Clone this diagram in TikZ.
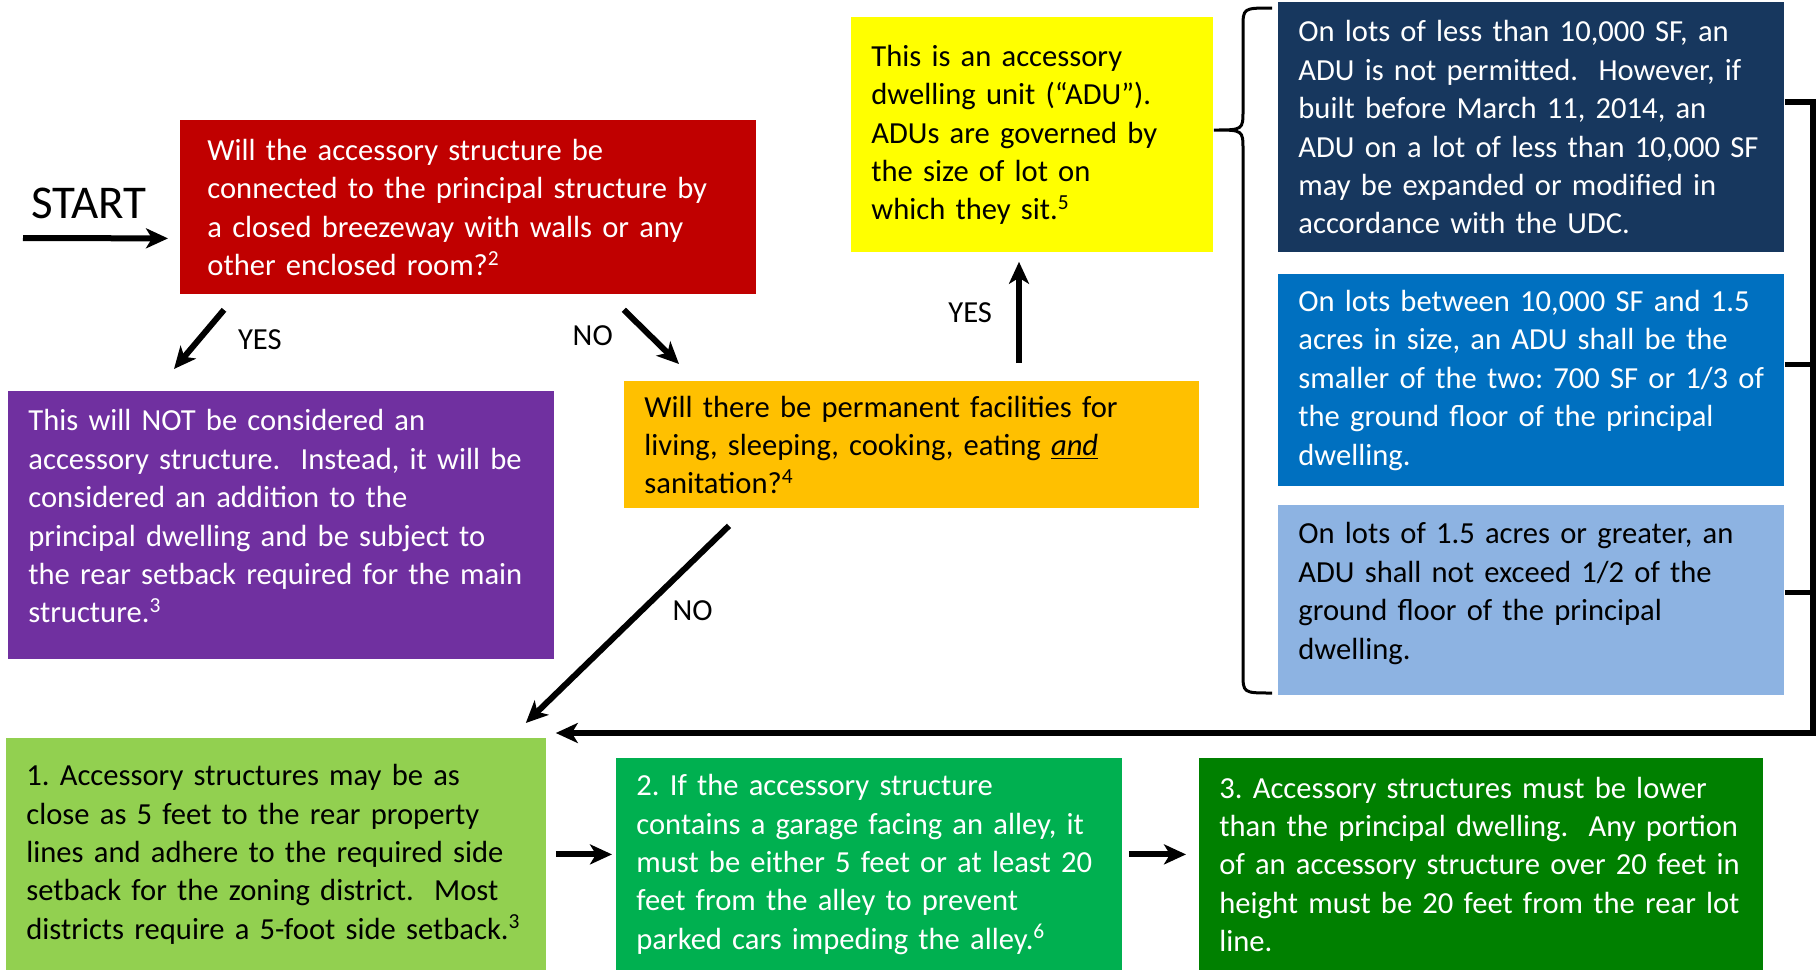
\documentclass[tikz,border=0pt]{standalone}
\usepackage{fontspec}
\setmainfont{Carlito}
\usepackage{xcolor}
\usetikzlibrary{positioning, arrows.meta, calc}

\definecolor{cRed}{HTML}{C00000}
\definecolor{cPurple}{HTML}{7030A0}
\definecolor{cOrange}{HTML}{FFC000}
\definecolor{cYellow}{HTML}{FFFF00}
\definecolor{cNavy}{HTML}{17375E}
\definecolor{cBlue}{HTML}{0070C0}
\definecolor{cSky}{HTML}{8DB3E2}
\definecolor{cLime}{HTML}{92D050}
\definecolor{cGreen}{HTML}{00B050}
\definecolor{cForest}{HTML}{008000}

\newcommand{\boxfont}{\fontsize{15.3pt}{19.2pt}\selectfont}
\frenchspacing

\begin{document}
\begin{tikzpicture}[
    x=1pt, y=-1pt,
    box/.style={rectangle, anchor=north west, inner xsep=10pt, inner ysep=0pt, align=left, font=\boxfont},
    redbox/.style={box, fill=cRed, text=white},
    purplebox/.style={box, fill=cPurple, text=white},
    orangebox/.style={box, fill=cOrange},
    yellowbox/.style={box, fill=cYellow},
    navybox/.style={box, fill=cNavy, text=white},
    bluebox/.style={box, fill=cBlue, text=white},
    skybox/.style={box, fill=cSky},
    limebox/.style={box, fill=cLime},
    greenbox/.style={box, fill=cGreen, text=white},
    forestbox/.style={box, fill=cForest, text=white},
    lbl/.style={font=\boxfont, inner sep=0pt},
    arrow/.style={-{Stealth[length=11pt, width=10pt, inset=3pt]}, line width=3pt},
    rail/.style={line width=2.5pt}
]
    \useasboundingbox (0,0) rectangle (910,485);

    \node[lbl, font=\fontsize{23.5pt}{27pt}\selectfont] (start) at (44.5,101.5) {START};
    \coordinate (startpt) at (11.5,119);

    \node[redbox, inner xsep=13.5pt, text width=261pt, minimum height=87pt] (connected) at (90,60)
        {Will the accessory structure be\\connected to the principal structure by\\a closed breezeway with walls or any\\other enclosed room?\textsuperscript{2}};
    \node[purplebox, text width=253pt, minimum height=134pt] (notaccessory) at (4,195.5)
        {This will NOT be considered an\\accessory structure.\ \ Instead, it will be\\considered an addition to the\\principal dwelling and be subject to\\the rear setback required for the main\\structure.\textsuperscript{3}\\[-10pt]\mbox{}};
    \node[orangebox, text width=267.5pt, minimum height=63.5pt] (facilities) at (312,190.5)
        {Will there be permanent facilities for\\living, sleeping, cooking, eating \underline{\textit{and}}\\sanitation?\textsuperscript{4}};
    \node[yellowbox, text width=161pt, minimum height=117.5pt] (adu) at (425.5,8.5)
        {This is an accessory\\dwelling unit (“ADU”).\\ADUs are governed by\\the size of lot on\\which they sit.\textsuperscript{5}};

    \node[navybox, text width=233pt, minimum height=125pt] (small) at (639,1)
        {On lots of less than 10,000 SF, an\\ADU is not permitted.\ \ However, if\\built before March 11, 2014, an\\ADU on a lot of less than 10,000 SF\\may be expanded or modified in\\accordance with the UDC.};
    \node[bluebox, text width=233pt, minimum height=106pt, below=10.5pt of small] (medium)
        {On lots between 10,000 SF and 1.5\\acres in size, an ADU shall be the\\smaller of the two: 700 SF or 1/3 of\\the ground floor of the principal\\dwelling.};
    \node[skybox, text width=233pt, minimum height=95pt, below=9pt of medium] (large)
        {On lots of 1.5 acres or greater, an\\ADU shall not exceed 1/2 of the\\ground floor of the principal\\dwelling.\\[-10pt]\mbox{}};

    \node[limebox, text width=250pt, minimum height=116pt] (rule1) at (3,369)
        {1. Accessory structures may be as\\close as 5 feet to the rear property\\lines and adhere to the required side\\setback for the zoning district.\ \ Most\\districts require a 5-foot side setback.\textsuperscript{3}};
    \node[greenbox, text width=233pt, minimum height=106pt] (rule2) at (308,379)
        {2. If the accessory structure\\contains a garage facing an alley, it\\must be either 5 feet or at least 20\\feet from the alley to prevent\\parked cars impeding the alley.\textsuperscript{6}};
    \node[forestbox, text width=262pt, minimum height=106pt] (rule3) at (599.5,379)
        {3. Accessory structures must be lower\\than the principal dwelling.\ \ Any portion\\of an accessory structure over 20 feet in\\height must be 20 feet from the rear lot\\line.};

    \draw[arrow] (startpt) -- ($(connected.west)+(-6,15.5)$);
    \draw[arrow] ($(connected.south west)+(22,7.5)$) -- node[lbl, right=18pt] {YES} ($(notaccessory.north west)+(83,-11)$);
    \draw[arrow] ($(connected.south east)+(-66.5,7.5)$) -- node[lbl, pos=0.47, left=17pt] {NO} ($(facilities.north west)+(27.5,-8.5)$);
    \draw[arrow] ($(facilities.north west)+(197.5,-9)$) -- node[lbl, left=12pt] {YES} ($(adu.south west)+(84,4.5)$);
    \draw[arrow] ($(facilities.south west)+(52.5,8.5)$) -- node[lbl, pos=0.43, right=14pt] {NO} ($(rule1.north east)+(-10.5,-7.5)$);

    \draw[line width=1.5pt] (636,4) .. controls (621.5,4) .. (621.5,14) -- (621.5,55)
        .. controls (621.5,65) .. (adu.east |- 0,65) .. controls (621.5,65) .. (621.5,75)
        -- (621.5,336.5) .. controls (621.5,346.5) .. (636,346.5);

    \coordinate (railbot) at (906.5,366.5);
    \draw[rail, arrow, line join=miter] ($(small.east)+(0,-12.5)$) -| (railbot) -- ($(rule1.north east |- railbot)+(4.5,0)$);
    \draw[rail] ($(medium.east)+(0,-8)$) -- +(14.5,0);
    \draw[rail] ($(large.east)+(0,-4)$) -- +(14.5,0);

    \draw[arrow] ([xshift=4.5pt]rule1.east) -- ([xshift=-2pt]rule1.east -| rule2.west);
    \draw[arrow, shorten >=6.5pt] ([xshift=3pt, yshift=5pt]rule2.east) -- ([yshift=5pt]rule2.east -| rule3.west);
\end{tikzpicture}
\end{document}
